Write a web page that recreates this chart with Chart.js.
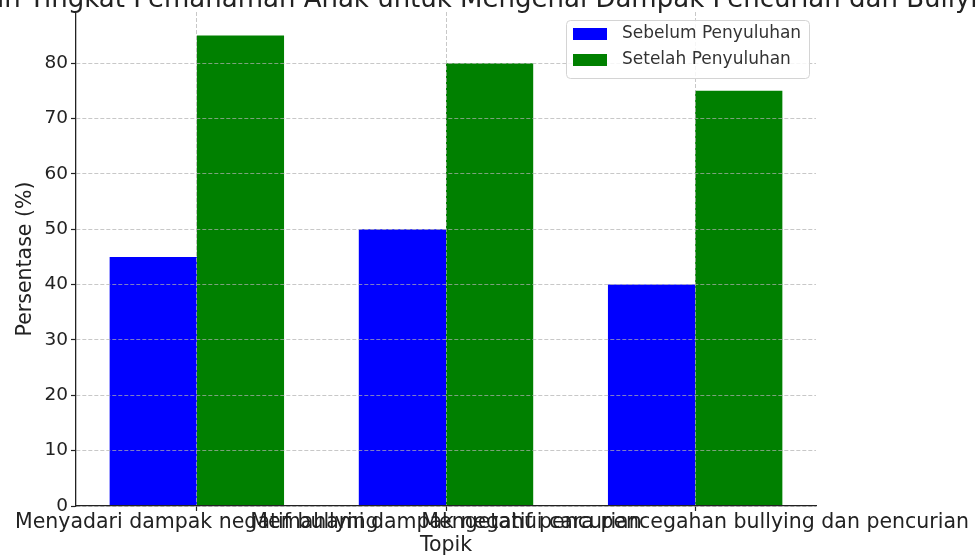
<!DOCTYPE html>
<html>
<head>
<meta charset="utf-8">
<script src="https://cdn.jsdelivr.net/npm/chart.js@4.4.1/dist/chart.umd.min.js"></script>
<style>
  html, body { margin: 0; padding: 0; background: #fff; overflow: hidden; }
  #wrap { width: 976px; height: 556px; }
</style>
</head>
<body>
<div id="wrap"><canvas id="barChart" width="976" height="556"></canvas></div>
<script>
// --- Data ---
const chartTitle = 'Perubahan Tingkat Pemahaman Anak untuk Mengenal Dampak Pencurian dan Bullying';
const categories = [
  'Menyadari dampak negatif bullying',
  'Memahami dampak negatif pencurian',
  'Mengetahui cara pencegahan bullying dan pencurian'
];
const seriesLabels = ['Sebelum Penyuluhan', 'Setelah Penyuluhan'];
const sebelum = [45, 50, 40];
const setelah = [85, 80, 75];
const yTickStep = 10;
const xAxisTitle = 'Topik';
const yAxisTitle = 'Persentase (%)';

const FONT = 'DejaVu Sans';
const TEXT = '#222222';
const GRID = 'rgba(176,176,176,0.7)';

// --- Title drawn above the plot (partly off the top edge) ---
const titlePlugin = {
  id: 'topTitle',
  afterDraw(chart) {
    const { ctx, chartArea } = chart;
    ctx.save();
    ctx.font = `26px "${FONT}"`;
    ctx.fillStyle = TEXT;
    ctx.textAlign = 'center';
    ctx.textBaseline = 'alphabetic';
    ctx.fillText(chartTitle, (chartArea.left + chartArea.right) / 2, 7);
    ctx.restore();
  }
};

// --- Legend box inside the plot, top right ---
const legendPlugin = {
  id: 'boxLegend',
  afterDraw(chart) {
    const { ctx, chartArea } = chart;
    const boxW = 243, boxH = 58;
    const x = chartArea.right - 7 - boxW;
    const y = chartArea.top + 8;
    ctx.save();
    ctx.fillStyle = 'rgba(255,255,255,0.85)';
    ctx.strokeStyle = '#d4d4d4';
    ctx.lineWidth = 1;
    ctx.beginPath();
    ctx.roundRect(x + 0.5, y + 0.5, boxW, boxH, 4);
    ctx.fill();
    ctx.stroke();
    ctx.font = `17px "${FONT}"`;
    ctx.textBaseline = 'middle';
    ctx.textAlign = 'left';
    chart.data.datasets.forEach((ds, i) => {
      const rowY = y + 8 + i * 26;
      ctx.fillStyle = ds.backgroundColor;
      ctx.fillRect(x + 7, rowY, 34, 12);
      ctx.fillStyle = '#333333';
      ctx.fillText(ds.label, x + 56, rowY + 6);
    });
    ctx.restore();
  }
};

const barChart = new Chart(document.getElementById('barChart'), {
  type: 'bar',
  data: {
    datasets: [
      {
        label: seriesLabels[0],
        data: sebelum.map((v, i) => ({ x: i, y: v })),
        backgroundColor: '#0000ff',
        borderWidth: 0
      },
      {
        label: seriesLabels[1],
        data: setelah.map((v, i) => ({ x: i, y: v })),
        backgroundColor: '#008000',
        borderWidth: 0
      }
    ]
  },
  plugins: [titlePlugin, legendPlugin],
  options: {
    responsive: false,
    animation: false,
    devicePixelRatio: 1,
    categoryPercentage: 0.7,
    barPercentage: 1,
    layout: { padding: { top: 12, right: 160, bottom: 0, left: 0 } },
    plugins: {
      legend: { display: false },
      title: { display: false },
      tooltip: { enabled: false }
    },
    scales: {
      x: {
        type: 'linear',
        min: -0.485,
        max: 2.485,
        offset: false,
        grid: {
          offset: false,
          color: GRID,
          lineWidth: 1,
          z: 1,
          tickLength: 5,
          tickColor: TEXT,
          tickWidth: 1.2,
          tickBorderDash: []
        },
        border: { color: TEXT, width: 1.3, dash: [4, 2], z: 2 },
        ticks: {
          stepSize: 1,
          includeBounds: false,
          autoSkip: false,
          maxRotation: 0,
          minRotation: 0,
          padding: 1,
          color: TEXT,
          font: { family: FONT, size: 20.5, lineHeight: 1 },
          callback: (v) => categories[v] ?? ''
        },
        title: {
          display: true,
          text: xAxisTitle,
          color: TEXT,
          font: { family: FONT, size: 20.5, lineHeight: 1 },
          padding: { top: 0, bottom: 0 }
        },
        afterFit(scale) {
          scale.height = 50;
          scale.paddingLeft = 0;
          scale.paddingRight = 0;
        }
      },
      y: {
        min: 0,
        max: 89.25,
        grid: {
          color: GRID,
          lineWidth: 1,
          z: 1,
          tickLength: 5,
          tickColor: TEXT,
          tickWidth: 1.2,
          tickBorderDash: []
        },
        border: { color: TEXT, width: 1.3, dash: [4, 2], z: 2 },
        ticks: {
          stepSize: yTickStep,
          includeBounds: false,
          padding: 3,
          color: TEXT,
          font: { family: FONT, size: 18.5 }
        },
        title: {
          display: true,
          text: yAxisTitle,
          color: TEXT,
          font: { family: FONT, size: 20.5, lineHeight: 1 },
          padding: { top: 15, bottom: 0 }
        },
        afterFit(scale) {
          scale.width = 76;
          scale.paddingTop = 0;
          scale.paddingBottom = 0;
        }
      }
    }
  }
});
</script>
</body>
</html>
